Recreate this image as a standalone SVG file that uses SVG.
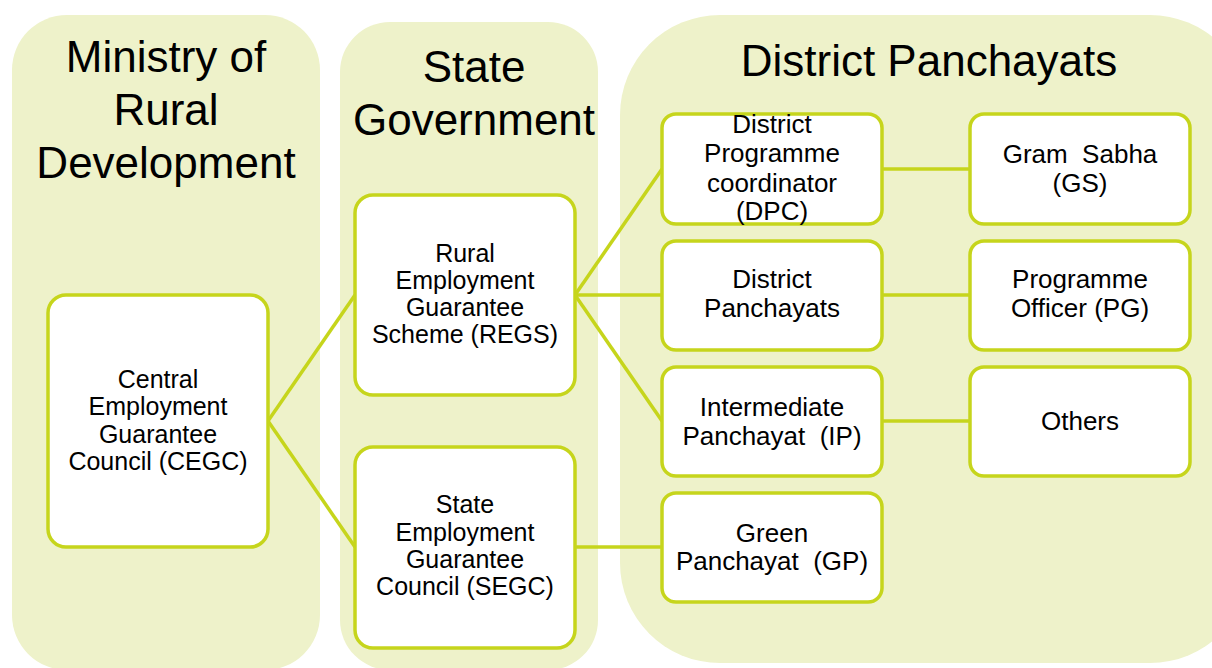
<svg xmlns="http://www.w3.org/2000/svg" width="1212" height="668" viewBox="0 0 1212 668">
  <defs>
    <style>
      .lane { fill: #eef2ca; }
      .lane-title { font-family: "Liberation Sans", Arial, sans-serif; font-size: 44px; fill: #000; text-anchor: middle; }
      .box { fill: #ffffff; stroke: #c6d51c; stroke-width: 3.5; }
      .lbl { font-family: "Liberation Sans", Arial, sans-serif; font-size: 25px; fill: #000; text-anchor: middle; }
      .lbl-r { font-family: "Liberation Sans", Arial, sans-serif; font-size: 26px; fill: #000; text-anchor: middle; }
      .link { fill: none; stroke: #c6d51c; stroke-width: 3.5; }
    </style>
  </defs>

  <rect width="1212" height="668" fill="#ffffff"/>

  <!-- Swimlane backgrounds -->
  <g id="lane-ministry">
    <rect class="lane" x="12" y="15" width="308" height="655" rx="55" ry="55"/>
    <text class="lane-title" x="166" y="72">Ministry of</text>
    <text class="lane-title" x="166" y="125">Rural</text>
    <text class="lane-title" x="166" y="178">Development</text>
  </g>
  <g id="lane-state">
    <rect class="lane" x="340" y="22" width="258" height="648" rx="50" ry="50"/>
    <text class="lane-title" x="474" y="82">State</text>
    <text class="lane-title" x="474" y="135">Government</text>
  </g>
  <g id="lane-district">
    <rect class="lane" x="620" y="15" width="630" height="648" rx="100" ry="100"/>
    <text class="lane-title" x="929" y="76">District Panchayats</text>
  </g>

  <!-- Connectors -->
  <g id="connectors">
    <path class="link" d="M268 421 L355 295"/>
    <path class="link" d="M268 421 L355 547"/>
    <path class="link" d="M575 295 L662 169"/>
    <path class="link" d="M575 295 L662 295"/>
    <path class="link" d="M575 295 L662 421"/>
    <path class="link" d="M575 547 L662 547"/>
    <path class="link" d="M882 169 L970 169"/>
    <path class="link" d="M882 295 L970 295"/>
    <path class="link" d="M882 421 L970 421"/>
  </g>

  <!-- Nodes -->
  <g id="cegc">
    <rect class="box" x="48" y="295" width="220" height="252" rx="18" ry="18"/>
    <text class="lbl" x="158" y="388">Central</text>
    <text class="lbl" x="158" y="415">Employment</text>
    <text class="lbl" x="158" y="443">Guarantee</text>
    <text class="lbl" x="158" y="470">Council (CEGC)</text>
  </g>
  <g id="regs">
    <rect class="box" x="355" y="195" width="220" height="200" rx="18" ry="18"/>
    <text class="lbl" x="465" y="262">Rural</text>
    <text class="lbl" x="465" y="289">Employment</text>
    <text class="lbl" x="465" y="316">Guarantee</text>
    <text class="lbl" x="465" y="343">Scheme (REGS)</text>
  </g>
  <g id="segc">
    <rect class="box" x="355" y="447" width="220" height="201" rx="18" ry="18"/>
    <text class="lbl" x="465" y="513">State</text>
    <text class="lbl" x="465" y="541">Employment</text>
    <text class="lbl" x="465" y="568">Guarantee</text>
    <text class="lbl" x="465" y="595">Council (SEGC)</text>
  </g>
  <g id="dpc">
    <rect class="box" x="662" y="114" width="220" height="110" rx="14" ry="14"/>
    <text class="lbl-r" x="772" y="133">District</text>
    <text class="lbl-r" x="772" y="162">Programme</text>
    <text class="lbl-r" x="772" y="192">coordinator</text>
    <text class="lbl-r" x="772" y="220">(DPC)</text>
  </g>
  <g id="dp">
    <rect class="box" x="662" y="241" width="220" height="109" rx="14" ry="14"/>
    <text class="lbl-r" x="772" y="288">District</text>
    <text class="lbl-r" x="772" y="317">Panchayats</text>
  </g>
  <g id="ip">
    <rect class="box" x="662" y="367" width="220" height="109" rx="14" ry="14"/>
    <text class="lbl-r" x="772" y="416">Intermediate</text>
    <text class="lbl-r" x="772" y="445" xml:space="preserve">Panchayat  (IP)</text>
  </g>
  <g id="gp">
    <rect class="box" x="662" y="493" width="220" height="109" rx="14" ry="14"/>
    <text class="lbl-r" x="772" y="542">Green</text>
    <text class="lbl-r" x="772" y="570" xml:space="preserve">Panchayat  (GP)</text>
  </g>
  <g id="gs">
    <rect class="box" x="970" y="114" width="220" height="110" rx="14" ry="14"/>
    <text class="lbl-r" x="1080" y="163" xml:space="preserve">Gram  Sabha</text>
    <text class="lbl-r" x="1080" y="192">(GS)</text>
  </g>
  <g id="po">
    <rect class="box" x="970" y="241" width="220" height="109" rx="14" ry="14"/>
    <text class="lbl-r" x="1080" y="288">Programme</text>
    <text class="lbl-r" x="1080" y="317">Officer (PG)</text>
  </g>
  <g id="others">
    <rect class="box" x="970" y="367" width="220" height="109" rx="14" ry="14"/>
    <text class="lbl-r" x="1080" y="430">Others</text>
  </g>
</svg>
